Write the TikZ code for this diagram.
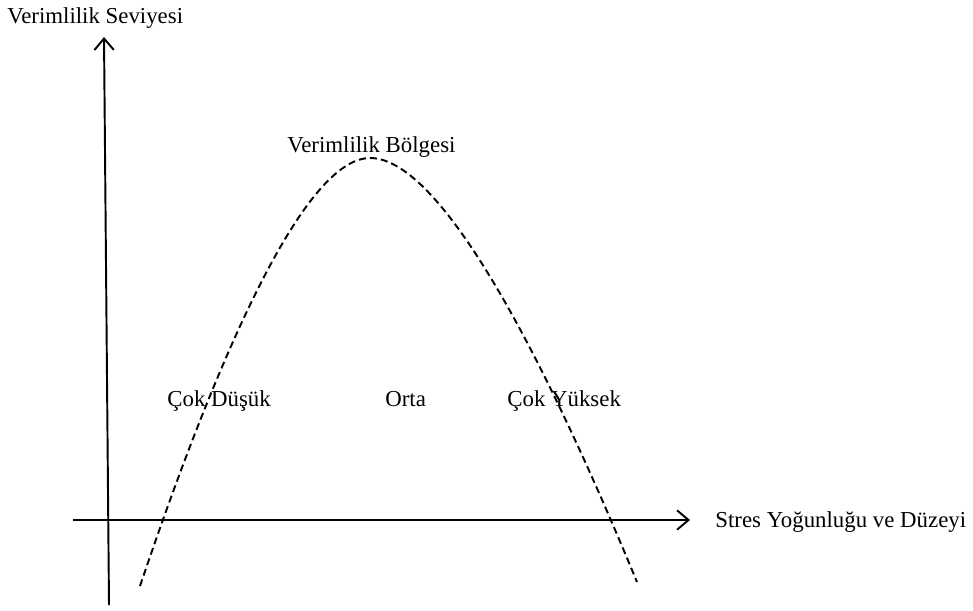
\documentclass[tikz,border=0pt]{standalone}
\usepackage{fontspec}
\setmainfont{Liberation Serif}
\usetikzlibrary{arrows.meta}
\begin{document}
\begin{tikzpicture}[x=0.02cm,y=-0.02cm,
  axis/.style={line width=1.1pt,-{Straight Barb[length=6.5pt,width=11pt,line width=1.1pt]}},
  lbl/.style={inner sep=0pt,anchor=base west,font=\fontsize{13}{15}\selectfont},
  curve/.style={line width=1.1pt,dash pattern=on 4pt off 2.3pt}]
\useasboundingbox (0,0) rectangle (973,610);
\coordinate (vb) at (109,605);
\coordinate (vt) at (104,37);
\coordinate (hl) at (73,520);
\coordinate (hr) at (690,520);
\coordinate (cs) at (140,586);
\coordinate (cp) at (370,158);
\coordinate (ce) at (637,582);
\draw[axis] (vb) -- (vt);
\draw[axis] (hl) -- (hr);
\draw[curve] (cs) .. controls (236,302) and (314,158) .. (cp)
  .. controls (430,158) and (520,299) .. (ce);
\node[lbl] (ys) at (7,23) {Verimlilik Seviyesi};
\node[lbl] (vbz) at (287,152) {Verimlilik Bölgesi};
\node[lbl] (xs) at (715,527) {Stres Yoğunluğu ve Düzeyi};
\node[lbl] (cd) at (167,406) {Çok Düşük};
\node[lbl] (or) at (385,406) {Orta};
\node[lbl] (cy) at (507,406) {Çok Yüksek};
\end{tikzpicture}
\end{document}
